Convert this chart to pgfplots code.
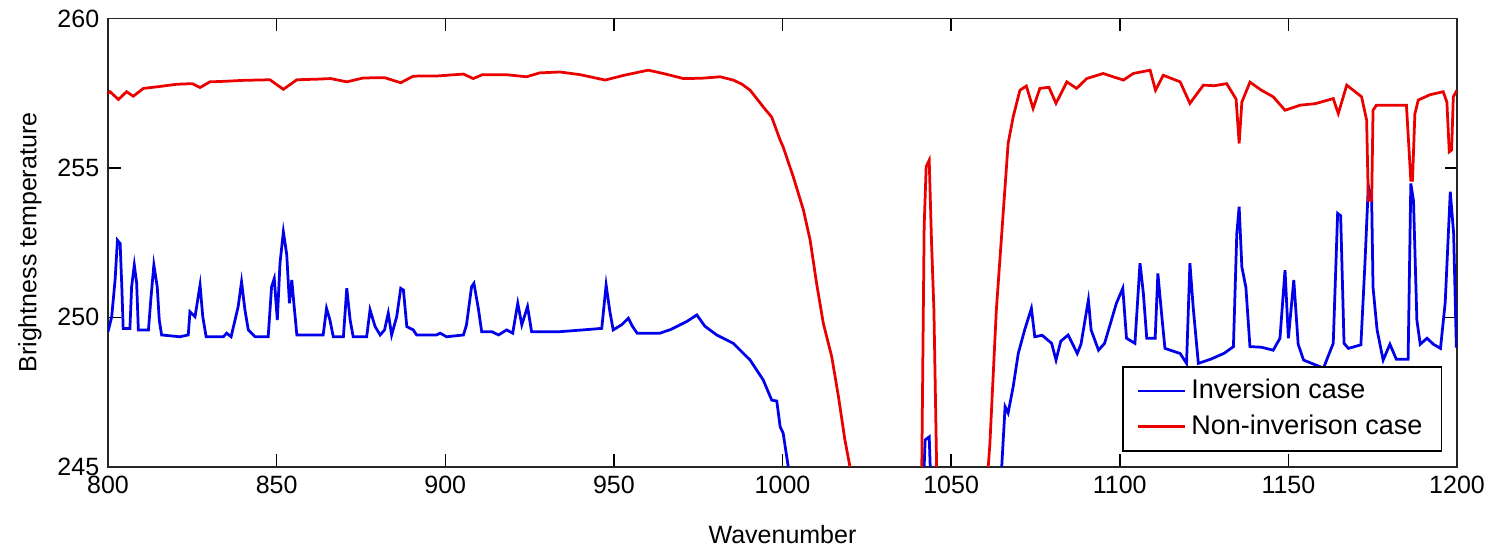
\documentclass[border=0pt]{standalone}
\usepackage{pgfplots}
\pgfplotsset{compat=1.18}
\usepackage{fontspec}
\setmainfont{Liberation Sans}
\definecolor{mblue}{RGB}{0,0,235}
\definecolor{mred}{RGB}{235,0,0}
\begin{document}
\begin{tikzpicture}
\begin{axis}[
  at={(0,0)}, anchor=south west,
  scale only axis, width=539.6pt, height=179.3pt,
  xmin=800, xmax=1200, ymin=245, ymax=260,
  xtick={800,850,...,1200}, ytick={245,250,255,260},
  /pgf/number format/assume math mode=true,
  /pgf/number format/1000 sep={},
  tick label style={font=\fontsize{10}{12}\selectfont},
  major tick length=5pt,
  tick style={black, line width=0.6pt},
  axis line style={line width=0.7pt, black!85},
  xlabel={Wavenumber}, ylabel={Brightness temperature},
  label style={font=\fontsize{10}{12}\selectfont},
  xlabel style={at={(axis description cs:0.5,0)}, yshift=-27pt, anchor=center},
  ylabel style={at={(axis description cs:-0.0578,0.5)}, anchor=center},
  legend style={at={(rel axis cs:1,0)}, anchor=south east, xshift=-6pt, yshift=6pt,
    font=\fontsize{10.8}{13}\selectfont, cells={anchor=west}, draw=black, line width=0.6pt,
    inner xsep=5.5pt, inner ysep=3pt, row sep=1pt},
  legend image code/.code={\draw[#1, line width=1.1pt] (0pt,0pt) -- (18.8pt,0pt);},
  every axis plot/.append style={line width=1.1pt},
]
\addplot[mblue] coordinates {
(800.0,249.52) (801.1,250.02) (802.1,251.25) (802.8,252.58) (803.6,252.47) (804.1,251.02)
(804.5,249.63) (806.5,249.63) (807.0,251.02) (807.8,251.75) (808.5,251.14) (809.0,249.58)
(812.0,249.58) (812.7,250.60) (813.6,251.75) (814.6,251.02) (815.2,249.91) (815.9,249.41)
(821.3,249.35) (823.8,249.41) (824.3,250.19) (825.8,250.02) (827.3,251.08) (828.1,250.02)
(829.1,249.35) (834.2,249.35) (835.2,249.47) (836.5,249.35) (838.6,250.36) (839.6,251.19)
(840.6,250.25) (841.6,249.58) (843.6,249.35) (847.5,249.35) (848.5,251.02) (849.3,251.30)
(850.2,249.91) (851.0,251.81) (852.0,252.86) (853.0,252.10) (853.8,250.47) (854.5,251.25)
(855.2,250.36) (856.0,249.41) (858.9,249.41) (863.8,249.41) (864.8,250.30) (865.8,249.91)
(866.8,249.35) (869.8,249.35) (870.8,250.97) (871.8,249.91) (872.7,249.35) (876.7,249.35)
(877.7,250.25) (879.2,249.69) (880.7,249.41) (882.0,249.58) (883.1,250.14) (884.1,249.41)
(885.6,250.02) (886.8,250.97) (887.6,250.91) (888.6,249.69) (890.5,249.58) (891.5,249.41)
(897.4,249.41) (898.5,249.47) (900.4,249.35) (905.4,249.41) (906.3,249.75) (907.8,251.02)
(908.5,251.14) (909.8,250.30) (910.8,249.52) (913.8,249.52) (915.8,249.41) (918.2,249.58)
(920.0,249.47) (921.5,250.47) (922.7,249.75) (924.4,250.36) (925.6,249.52) (934.0,249.52)
(940.9,249.58) (946.4,249.63) (947.7,251.08) (948.8,250.20) (949.8,249.58) (952.3,249.75)
(954.3,249.97) (955.5,249.70) (956.9,249.47) (963.7,249.47) (967.0,249.60) (971.6,249.86)
(974.6,250.08) (977.0,249.70) (980.5,249.41) (985.4,249.13) (990.4,248.57) (994.3,247.90)
(996.8,247.23) (998.3,247.20) (999.3,246.34) (1000.2,246.12) (1001.7,245.0) (1002.5,243)
(1041.8,243) (1042.0,245.0) (1042.3,245.9) (1043.5,246.0) (1043.8,245.0) (1044.2,243)
(1064.7,243) (1065.0,245.0) (1066.0,247.01) (1066.9,246.8) (1068.4,247.68) (1069.9,248.79)
(1071.8,249.58) (1073.8,250.30) (1074.8,249.35) (1077.0,249.40) (1079.8,249.13) (1081.1,248.57)
(1082.5,249.20) (1084.7,249.41) (1087.4,248.79) (1088.5,249.10) (1090.7,250.58) (1091.5,249.58)
(1093.7,248.90) (1095.5,249.13) (1099.0,250.47) (1100.9,250.97) (1102.0,249.30) (1104.5,249.13)
(1106.0,251.81) (1107.0,250.80) (1108.0,249.30) (1110.5,249.30) (1111.3,251.47) (1112.5,250.00)
(1113.4,248.96) (1117.9,248.79) (1119.8,248.46) (1120.8,251.81) (1121.8,250.30) (1123.3,248.46)
(1127.0,248.60) (1131.0,248.80) (1133.7,249.02) (1134.7,252.80) (1135.4,253.70) (1136.2,251.69)
(1137.4,251.00) (1138.6,249.02) (1142.0,249.00) (1145.5,248.90) (1147.5,249.30) (1149.0,251.58)
(1150.0,249.30) (1151.6,251.25) (1152.9,249.10) (1154.5,248.57) (1160.4,248.30) (1163.3,249.13)
(1164.6,253.48) (1165.5,253.40) (1166.5,249.13) (1167.8,248.96) (1171.5,249.08) (1172.7,251.80)
(1173.7,254.40) (1174.7,253.90) (1175.1,251.00) (1176.3,249.58) (1178.1,248.57) (1180.1,249.10)
(1182.0,248.60) (1185.5,248.60) (1186.3,254.48) (1187.1,253.90) (1188.1,249.90) (1189.1,249.10)
(1191.1,249.30) (1193.0,249.10) (1195.1,248.96) (1196.5,250.50) (1198.0,254.20) (1199.0,252.80)
(1199.8,249.02) (1200.0,249.00)
};
\addlegendentry{Inversion case\hspace{6pt}}
\addplot[mred] coordinates {
(800.0,257.50) (800.6,257.55) (803.1,257.29) (805.5,257.55) (807.5,257.40) (810.5,257.66)
(815.0,257.72) (820.4,257.80) (825.0,257.82) (827.3,257.69) (830.2,257.88) (835.0,257.90)
(840.1,257.93) (848.0,257.95) (852.0,257.63) (856.0,257.95) (862.0,257.97) (866.0,257.99)
(870.8,257.88) (875.7,258.01) (882.0,258.02) (886.8,257.85) (890.5,258.07) (898.0,258.08)
(905.4,258.14) (908.3,257.99) (911.0,258.12) (918.0,258.12) (924.1,258.05) (928.0,258.18)
(934.0,258.21) (940.0,258.12) (947.4,257.94) (953.0,258.10) (960.2,258.27) (965.0,258.15)
(970.6,257.99) (976.0,258.00) (981.5,258.05) (985.4,257.94) (988.0,257.80) (990.4,257.60)
(994.3,257.04) (996.8,256.70) (999.3,255.93) (1000.2,255.70) (1003.2,254.70) (1006.2,253.59)
(1008.2,252.58) (1010.1,251.14) (1012.1,249.80) (1014.6,248.68) (1016.6,247.34) (1018.5,245.90)
(1020.0,245.00) (1021.0,243) (1041.0,243) (1041.3,245.0) (1042.0,253.03) (1042.6,255.04)
(1043.5,255.26) (1044.2,252.47) (1044.9,250.24) (1045.7,245.0) (1046.0,243) (1060.6,243)
(1061.0,245.0) (1061.5,245.79) (1063.4,250.24) (1065.5,253.59) (1066.9,255.82) (1068.4,256.71)
(1070.4,257.60) (1072.3,257.74) (1074.3,256.99) (1076.3,257.66) (1079.0,257.70) (1081.1,257.16)
(1084.3,257.88) (1087.2,257.66) (1090.2,257.99) (1095.1,258.16) (1098.0,258.05) (1101.1,257.94)
(1104.0,258.16) (1109.0,258.27) (1110.6,257.60) (1112.9,258.10) (1117.9,257.88) (1120.8,257.16)
(1124.8,257.77) (1128.0,257.75) (1131.7,257.82) (1134.5,257.30) (1135.4,255.82) (1136.2,257.20)
(1138.6,257.87) (1142.0,257.60) (1145.5,257.38) (1149.0,256.93) (1153.5,257.10) (1158.0,257.15)
(1163.3,257.32) (1164.8,256.82) (1167.3,257.77) (1171.7,257.38) (1173.2,256.60) (1173.7,253.92)
(1174.7,253.92) (1175.1,256.93) (1176.1,257.10) (1185.0,257.10) (1186.3,254.59) (1186.8,254.59)
(1187.5,256.80) (1188.5,257.27) (1192.0,257.45) (1195.9,257.55) (1197.0,257.20) (1197.7,255.54)
(1198.4,255.60) (1198.9,257.38) (1200.0,257.60)
};
\addlegendentry{Non-inverison case\hspace{6pt}}
\end{axis}
\pgfresetboundingbox
\path[use as bounding box] (-43.2pt,-32.5pt) rectangle (552.8pt,186.7pt);
\end{tikzpicture}
\end{document}
